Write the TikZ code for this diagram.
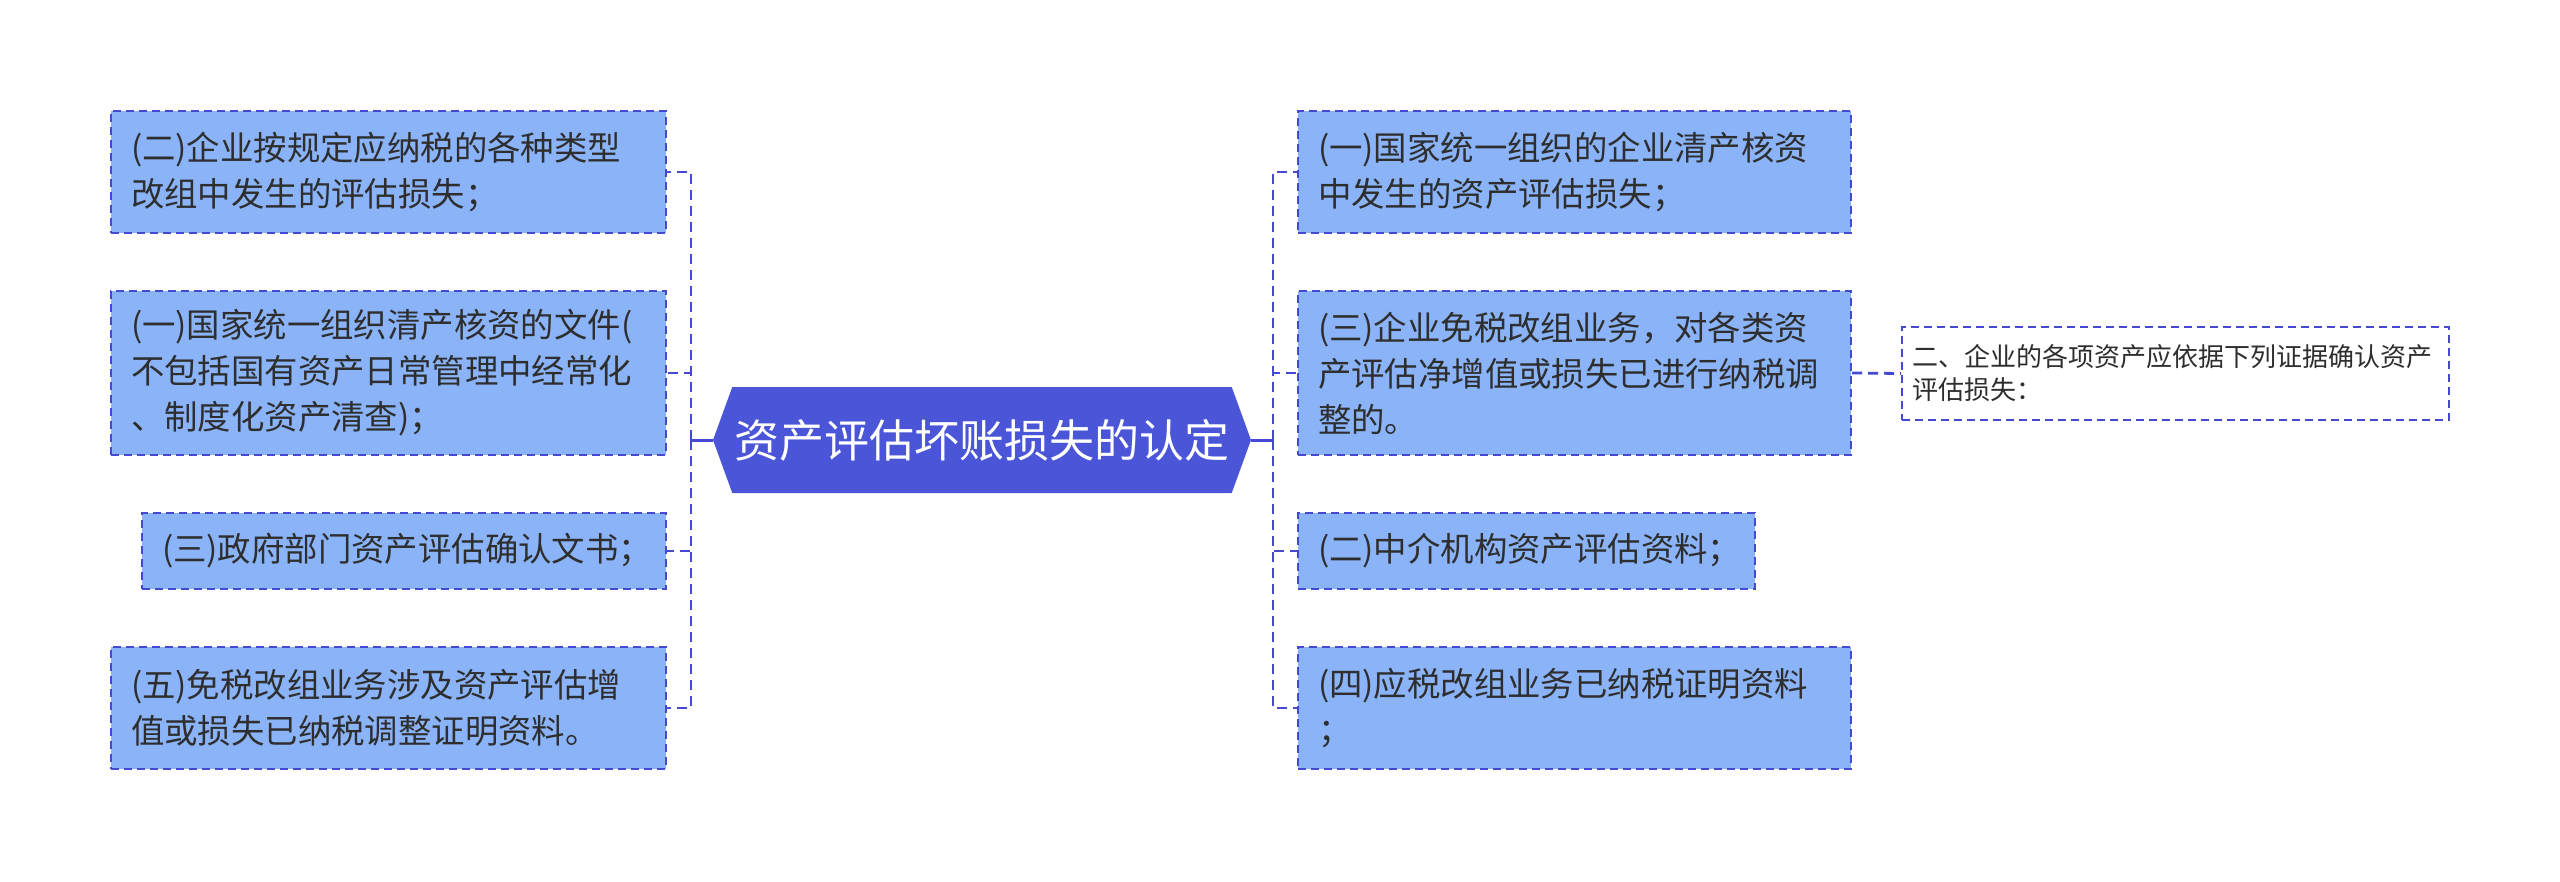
\documentclass[tikz,border=0pt]{standalone}
\usepackage{fontspec}
\setmainfont{Noto Sans CJK SC}
\usetikzlibrary{shapes.symbols}
\definecolor{boxfill}{HTML}{8AB3F8}
\definecolor{edge}{HTML}{4549D2}
\definecolor{hubfill}{HTML}{4A55D8}
\definecolor{ink}{HTML}{2E2E2E}
\begin{document}
\begin{tikzpicture}[x=0.5pt,y=-0.5pt,
  leaf/.style={draw=edge, fill=boxfill, dash pattern=on 4pt off 2.5pt, line width=1.1pt,
    text=ink, font=\fontsize{16.7}{23}\selectfont, align=left, inner xsep=10pt, inner ysep=0pt},
  note/.style={draw=edge, fill=white, dash pattern=on 4pt off 2.5pt, line width=0.9pt,
    text=ink, font=\fontsize{13}{16.5}\selectfont, align=left, inner xsep=5pt, inner ysep=0pt},
  hub/.style={signal, signal to=west and east, signal pointer angle=140, fill=hubfill,
    text=white, font=\fontsize{22.5}{26}\selectfont, inner sep=0pt},
  conn/.style={draw=edge, line width=1.4pt, dash pattern=on 5pt off 3pt},
  stub/.style={draw=edge, line width=1.5pt}]
\useasboundingbox (0,0) rectangle (2560,882);

\node[hub, minimum width=269pt, minimum height=53pt] (c) at (982,440) {资产评估坏账损失的认定};

\node[leaf, text width=257.5pt, minimum height=61pt] (l1) at (388.5,172) {(二)企业按规定应纳税的各种类型\\改组中发生的评估损失；};
\node[leaf, text width=257.5pt, minimum height=82pt] (l2) at (388.5,373) {(一)国家统一组织清产核资的文件(\\不包括国有资产日常管理中经常化\\、制度化资产清查)；};
\node[leaf, text width=242pt, minimum height=38pt] (l3) at (404,551) {(三)政府部门资产评估确认文书；};
\node[leaf, text width=257.5pt, minimum height=61pt] (l4) at (388.5,708) {(五)免税改组业务涉及资产评估增\\值或损失已纳税调整证明资料。};

\node[leaf, text width=256.5pt, minimum height=61pt] (r1) at (1574.5,172) {(一)国家统一组织的企业清产核资\\中发生的资产评估损失；};
\node[leaf, text width=256.5pt, minimum height=82pt] (r2) at (1574.5,373) {(三)企业免税改组业务，对各类资\\产评估净增值或损失已进行纳税调\\整的。};
\node[leaf, text width=208.5pt, minimum height=38pt] (r3) at (1526.5,551) {(二)中介机构资产评估资料；};
\node[leaf, text width=256.5pt, minimum height=61pt] (r4) at (1574.5,708) {(四)应税改组业务已纳税证明资料\\；};

\node[note, text width=263.5pt, minimum height=46.5pt] (n1) at (2175.5,373.5) {二、企业的各项资产应依据下列证据确认资产\\评估损失：};

\coordinate (lb) at (691,440);
\coordinate (rb) at (1273,440);

\draw[stub] (c.west) -- (lb);
\draw[stub] (c.east) -- (rb);
\foreach \n in {l1,l2,l3,l4}
  \draw[conn] (lb) -- (lb |- \n.east) -- (\n.east);
\foreach \n in {r1,r2,r3,r4}
  \draw[conn] (rb) -- (rb |- \n.west) -- (\n.west);
\draw[conn] (r2.east) -- (n1.west);
\end{tikzpicture}
\end{document}
